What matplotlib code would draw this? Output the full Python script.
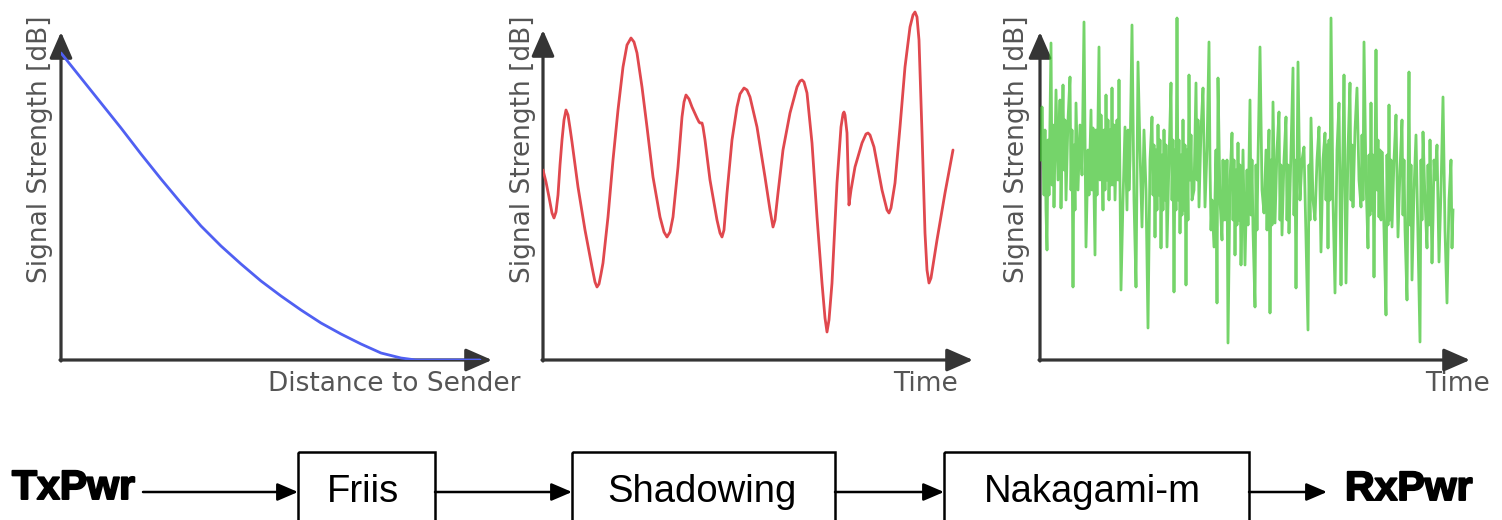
import matplotlib.pyplot as plt
from matplotlib.patches import Rectangle
import matplotlib.patheffects as pe

# ---- data (x: samples from the y axis, y: level above the x axis) ----
# path loss (Friis)
friis_d = [0, 20, 40, 60, 80, 100, 120, 140, 160, 180, 200, 220, 240, 260, 280, 300,
           320, 340, 355, 419]
friis_db = [307, 282, 257, 232, 206, 181, 157, 134, 114, 96, 79, 64, 50, 37, 26, 16,
            7, 2, 0, 0]

# shadowing
shadow_t = [0, 3, 6, 9, 11, 13, 15, 17, 19, 21, 23, 25, 27, 29, 35, 42, 49, 52, 54, 56,
            58, 60, 65, 70, 75, 80, 84, 88, 91, 94, 99, 104, 110, 117, 121, 124, 127,
            130, 135, 139, 141, 143, 146, 149, 154, 156, 157, 159, 160, 162, 167, 174,
            177, 179, 181, 184, 189, 194, 197, 201, 204, 207, 214, 222, 227, 230, 232,
            235, 240, 247, 254, 257, 259, 261, 264, 269, 274, 279, 282, 284, 286, 289,
            294, 298, 300, 301, 302, 304, 306, 308, 312, 319, 323, 325, 327, 331, 339,
            344, 346, 348, 352, 357, 362, 367, 370, 372, 374, 376, 379, 382, 384, 386,
            388, 394, 402, 410]
shadow_db = [190, 178, 163, 147, 142, 148, 165, 195, 220, 240, 250, 245, 232, 218, 173,
             130, 93, 78, 73, 76, 86, 97, 143, 200, 250, 293, 315, 322, 318, 307, 273,
             233, 183, 143, 128, 123, 128, 143, 193, 243, 258, 265, 261, 253, 242, 238,
             237, 237, 233, 220, 180, 140, 127, 123, 130, 167, 220, 253, 266, 272, 270,
             263, 233, 183, 150, 133, 140, 167, 210, 247, 273, 279, 280, 278, 267, 217,
             143, 77, 42, 28, 40, 77, 177, 233, 246, 248, 245, 227, 155, 170, 193, 217,
             226, 227, 225, 213, 170, 150, 147, 152, 177, 233, 293, 333, 345, 348, 343,
             320, 227, 127, 90, 77, 82, 120, 167, 210]

# fast fading (Nakagami-m)
fading_t = [1, 2, 4, 5, 6, 7, 8, 9, 11, 12, 13, 14, 16, 18, 20, 21, 23, 24, 25, 26,
            28, 30, 31, 32, 33, 34, 35, 36, 38, 40, 42, 44, 46, 48, 49, 51, 52, 53, 55, 56,
            57, 59, 60, 61, 63, 64, 65, 66, 67, 68, 69, 70, 71, 72, 73, 74, 75, 77, 78, 79,
            81, 83, 85, 87, 88, 89, 90, 92, 94, 96, 98, 100, 102, 104, 106, 108, 110, 112, 113, 114,
            115, 116, 117, 118, 119, 120, 121, 122, 123, 124, 125, 126, 127, 129, 131, 132, 133, 134, 135, 136,
            137, 138, 139, 140, 141, 142, 143, 144, 145, 146, 147, 148, 149, 150, 151, 152, 154, 156, 157, 158,
            159, 161, 163, 165, 167, 169, 170, 171, 172, 174, 176, 177, 178, 180, 182, 183, 184, 185, 186, 187,
            188, 190, 192, 193, 194, 195, 196, 197, 198, 199, 200, 201, 203, 205, 207, 208, 209, 210, 211, 212,
            213, 215, 216, 217, 218, 220, 222, 224, 226, 227, 228, 229, 230, 231, 232, 233, 235, 237, 239, 240,
            241, 242, 244, 246, 247, 248, 249, 251, 253, 254, 255, 256, 258, 260, 262, 264, 266, 268, 269, 270,
            271, 273, 275, 277, 279, 281, 283, 285, 286, 287, 288, 289, 290, 291, 293, 295, 297, 299, 301, 302,
            303, 304, 306, 308, 310, 311, 312, 313, 315, 317, 319, 321, 322, 323, 324, 326, 328, 329, 330, 331,
            332, 333, 334, 336, 337, 338, 339, 340, 341, 342, 344, 346, 347, 348, 349, 350, 351, 352, 354, 356,
            358, 360, 362, 363, 364, 365, 367, 369, 370, 371, 372, 374, 376, 378, 380, 381, 382, 383, 385, 387,
            388, 389, 390, 392, 393, 394, 395, 397, 399, 401, 403, 405, 407, 409, 411, 412, 413]
fading_db = [200, 253, 165, 230, 150, 110, 220, 165, 317, 175, 235, 153, 270, 180, 260, 152, 275, 190, 240, 160,
             240, 283, 170, 230, 73, 215, 150, 257, 170, 235, 185, 338, 113, 210, 165, 250, 170, 232, 105, 230,
             165, 313, 180, 245, 150, 230, 170, 265, 180, 240, 160, 230, 175, 272, 175, 235, 160, 240, 180, 280,
             70, 160, 233, 150, 230, 170, 200, 335, 160, 73, 298, 210, 133, 230, 170, 32, 200, 243, 165, 215,
             123, 210, 150, 235, 165, 220, 112, 205, 150, 230, 160, 215, 113, 200, 277, 160, 220, 68, 210, 150,
             342, 160, 220, 127, 205, 145, 240, 150, 215, 75, 210, 140, 285, 180, 225, 160, 170, 277, 180, 240,
             153, 230, 272, 153, 210, 318, 195, 130, 160, 113, 210, 57, 282, 160, 120, 200, 140, 198, 140, 200,
             17, 180, 227, 140, 200, 105, 190, 135, 217, 140, 195, 95, 210, 95, 190, 135, 200, 260, 145, 200,
             130, 53, 195, 130, 200, 313, 170, 147, 210, 130, 190, 230, 47, 200, 135, 258, 137, 210, 248, 140,
             195, 125, 200, 243, 140, 195, 127, 210, 292, 145, 200, 72, 298, 160, 200, 213, 120, 30, 195, 140,
             242, 160, 140, 200, 233, 108, 200, 227, 160, 215, 112, 220, 160, 342, 160, 67, 210, 257, 75, 160,
             215, 285, 77, 210, 277, 160, 215, 153, 230, 272, 180, 153, 225, 160, 318, 180, 112, 205, 145, 257,
             150, 205, 83, 310, 170, 220, 143, 210, 140, 208, 130, 45, 205, 135, 255, 140, 200, 133, 200, 245,
             123, 190, 240, 145, 200, 130, 60, 288, 135, 195, 80, 170, 225, 120, 18, 200, 140, 228, 160, 112,
             195, 135, 220, 97, 140, 200, 180, 215, 98, 170, 263, 130, 57, 160, 200, 112, 150]

# block diagram
blocks = ["Friis", "Shadowing", "Nakagami-m"]
block_left = [298, 572, 944]
block_right = [435, 835, 1249]
text_center = [363, 702, 1092]

W, H = 1502, 520
BASE = 360          # pixel row of the x axes
AXIS = "#353535"
LABEL = "#555555"

fig = plt.figure(figsize=(W / 100, H / 100), dpi=100)

# background axes in pixel coordinates for labels and the diagram
bg = fig.add_axes([0, 0, 1, 1])
bg.set_xlim(0, W)
bg.set_ylim(H, 0)
bg.axis("off")


def make_panel(x0, x1):
    ax = fig.add_axes([x0 / W, (H - BASE) / H, (x1 - x0) / W, BASE / H])
    ax.set_xlim(0, x1 - x0)
    ax.set_ylim(0, BASE)
    ax.patch.set_alpha(0)
    ax.axis("off")
    return ax


def draw_axes(ax, top, right):
    arrow = dict(arrowstyle="-|>,head_length=0.8,head_width=0.35", lw=2.3,
                 color=AXIS, shrinkA=0, shrinkB=0, mutation_scale=20)
    ax.annotate("", xy=(0, top), xytext=(0, -1), arrowprops=arrow, zorder=2)
    ax.annotate("", xy=(right, 0), xytext=(-1, 0), arrowprops=arrow, zorder=2)


ax1 = make_panel(61, 500)
draw_axes(ax1, 328, 431)
ax1.plot(friis_d, friis_db, color="#5060f2", lw=2.0, zorder=3,
         solid_capstyle="round", solid_joinstyle="round")

ax2 = make_panel(543, 985)
draw_axes(ax2, 330, 430)
ax2.plot(shadow_t, shadow_db, color="#e0484e", lw=2.0, zorder=3,
         solid_joinstyle="round", solid_capstyle="round")

ax3 = make_panel(1040, 1480)
draw_axes(ax3, 328, 430)
ax3.plot(fading_t, fading_db, color="#40c430", lw=2.0, alpha=0.72, zorder=3)

# axis labels
for xc in [40, 523, 1017]:
    bg.text(xc, 149, "Signal Strength [dB]", rotation=90, ha="center", va="center",
            fontsize=19, color=LABEL)
bg.text(520, 384, "Distance to Sender", ha="right", va="center", fontsize=19, color=LABEL)
bg.text(958, 384, "Time", ha="right", va="center", fontsize=19, color=LABEL)
bg.text(1490, 384, "Time", ha="right", va="center", fontsize=19, color=LABEL)

# block diagram
arrow_y = 492
flow = dict(arrowstyle="-|>,head_length=0.7,head_width=0.3", lw=1.8, color="black",
            shrinkA=0, shrinkB=0, mutation_scale=18)
bold = dict(fontsize=29.5, fontweight="bold", family="Liberation Sans", color="black",
            path_effects=[pe.withStroke(linewidth=1.4, foreground="black")])
bg.text(12, 499, "TxPwr", ha="left", va="baseline", **bold)
bg.text(1345, 500, "RxPwr", ha="left", va="baseline", **bold)

starts = [143] + block_right
ends = block_left + [1327]
for s, e in zip(starts, ends):
    bg.annotate("", xy=(e, arrow_y), xytext=(s, arrow_y), arrowprops=flow)

for name, l, r, c in zip(blocks, block_left, block_right, text_center):
    bg.add_patch(Rectangle((l, 452), r - l, 90, fill=False, lw=1.8, ec="black"))
    bg.text(c, 502, name, ha="center", va="baseline", fontsize=27.5,
            family="Liberation Sans", color="black")

fig.savefig("out.png", dpi=100)
